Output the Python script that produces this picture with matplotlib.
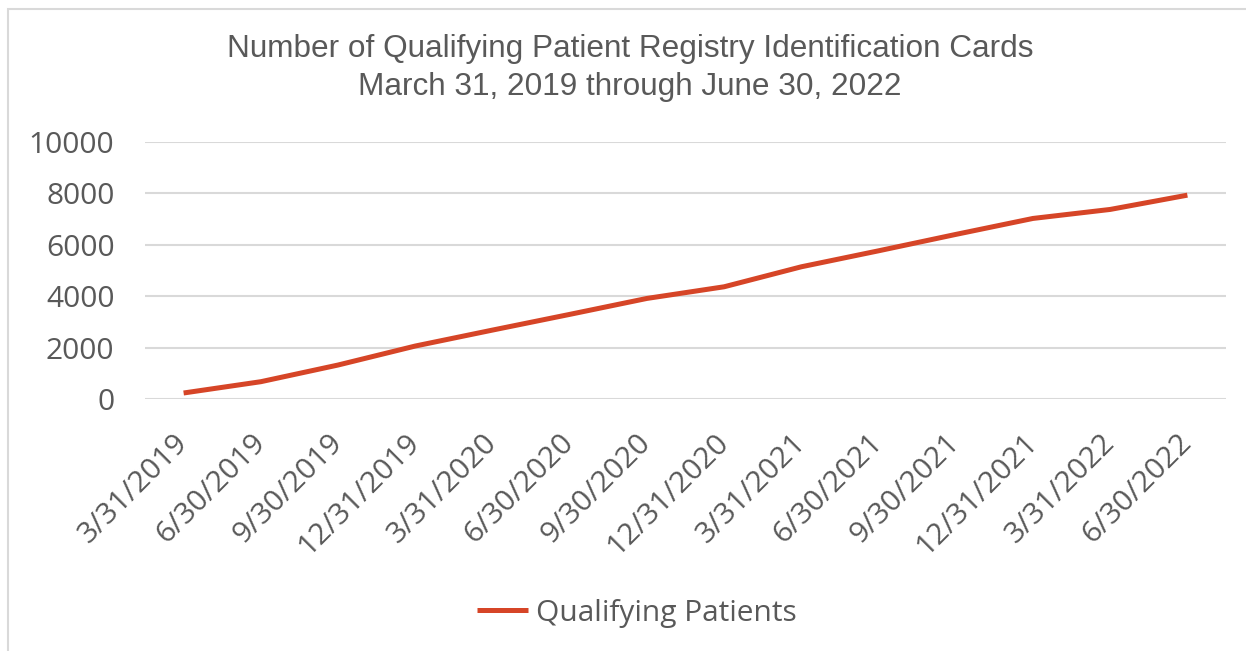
import matplotlib.pyplot as plt
from matplotlib.patches import Rectangle

# Данные
dates = ['3/31/2019', '6/30/2019', '9/30/2019', '12/31/2019',
         '3/31/2020', '6/30/2020', '9/30/2020', '12/31/2020',
         '3/31/2021', '6/30/2021', '9/30/2021', '12/31/2021',
         '3/31/2022', '6/30/2022']
patients = [245, 684, 1332, 2070, 2690, 3300, 3920, 4373,
            5150, 5771, 6408, 7029, 7379, 7934]
y_ticks = [0, 2000, 4000, 6000, 8000, 10000]

text_color = '#595959'
line_color = '#D64527'
grid_color = '#D9D9D9'

fig = plt.figure(figsize=(12.46, 6.51), dpi=100)
ax = fig.add_axes([145 / 1246, 1 - 399.3 / 651, (1226 - 145) / 1246, (399.3 - 142) / 651])

x = list(range(len(dates)))
line, = ax.plot(x, patients, color=line_color, linewidth=3.6, solid_capstyle='butt',
                label='Qualifying Patients')

ax.set_xlim(-0.5, len(dates) - 0.5)
ax.set_ylim(0, 10000)
ax.set_yticks(y_ticks)
ax.set_yticklabels([str(v) for v in y_ticks])
ax.set_xticks(x)
ax.set_xticklabels(dates, rotation=45, ha='right', va='center', rotation_mode='anchor')

ax.grid(axis='y', color=grid_color, linewidth=1.5)
ax.set_axisbelow(True)
for s in ax.spines.values():
    s.set_visible(False)
ax.tick_params(axis='both', length=0, colors=text_color, labelsize=21.5)
ax.tick_params(axis='y', pad=22)
ax.tick_params(axis='x', pad=28)
for lbl in ax.get_xticklabels() + ax.get_yticklabels():
    lbl.set_fontfamily('Open Sans')

# Заголовок
title_x = 630 / 1246
fig.text(title_x, 1 - 49 / 651, 'Number of Qualifying Patient Registry Identification Cards',
         ha='center', va='center', fontsize=22.7, color=text_color, family='Liberation Sans')
fig.text(title_x, 1 - 87 / 651, 'March 31, 2019 through June 30, 2022',
         ha='center', va='center', fontsize=22.7, color=text_color, family='Liberation Sans')

# Легенда
fig.legend(handles=[line], loc='center', bbox_to_anchor=(637 / 1246, 1 - 613 / 651),
           frameon=False, handlelength=1.7, handletextpad=0.3,
           prop={'family': 'Open Sans', 'size': 21.5}, labelcolor=text_color)

# Рамка диаграммы
fig.patches.append(Rectangle((8 / 1246, -0.05), 1.2, 1 - 9 / 651 + 0.05,
                             transform=fig.transFigure, fill=False,
                             edgecolor=grid_color, linewidth=1.5))

fig.savefig('out.png', dpi=100)
